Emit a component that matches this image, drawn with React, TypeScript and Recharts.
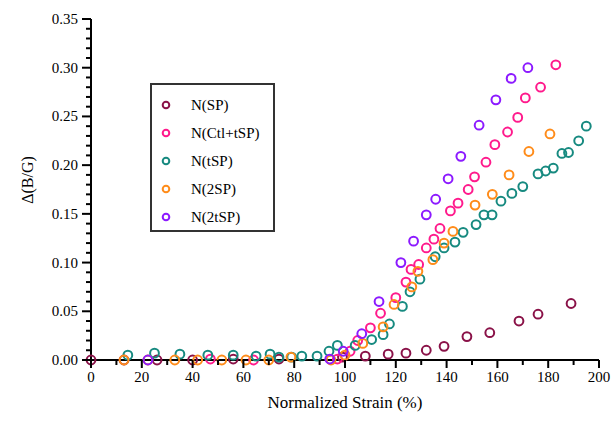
import React from 'react';
import { ScatterChart, Scatter, XAxis, YAxis, Legend } from 'recharts';

// values
const spX = [0, 13, 26, 40, 56, 74, 99, 108, 117, 124, 132, 139, 148, 157, 168.5, 176, 189];
const spY = [0, 0, 0, 0, 0.001, 0.001, 0.003, 0.004, 0.006, 0.007, 0.01, 0.014, 0.024, 0.028, 0.04, 0.047, 0.058];

const ctlX = [47, 64, 97, 102, 105, 110, 114, 120, 124, 126, 129, 132, 135, 137.4, 141.5, 144.5, 148.5, 151, 155.5, 159, 164, 168, 171, 177, 183];
const ctlY = [0.001, 0, 0.001, 0.009, 0.02, 0.033, 0.048, 0.064, 0.08, 0.093, 0.098, 0.115, 0.124, 0.135, 0.153, 0.161, 0.175, 0.188, 0.203, 0.221, 0.234, 0.249, 0.269, 0.28, 0.303];

const tspX = [14.5, 25, 35, 46, 56, 65, 70.5, 74, 79, 83, 89, 93.7, 97, 104, 110.5, 115, 117.5, 122.6, 125.6, 129.5, 135.5, 139, 143.3, 146.5, 151.6, 154.7, 157.9, 161.4, 165.7, 170, 176, 179, 182, 185.4, 188, 192, 195];
const tspY = [0.005, 0.007, 0.006, 0.005, 0.005, 0.004, 0.006, 0.003, 0.003, 0.004, 0.004, 0.009, 0.015, 0.015, 0.021, 0.026, 0.037, 0.055, 0.07, 0.083, 0.106, 0.115, 0.121, 0.131, 0.139, 0.149, 0.149, 0.163, 0.171, 0.178, 0.191, 0.194, 0.197, 0.212, 0.213, 0.225, 0.24];

const twoSpX = [13, 22.4, 33, 42, 51.5, 61, 70, 78.7, 94.5, 100, 107, 115, 119.3, 126.3, 128.7, 134.6, 139, 142.5, 151.2, 158, 164.6, 172.4, 180.7];
const twoSpY = [0, 0, 0, 0, 0, 0, 0, 0.003, 0, 0.005, 0.017, 0.034, 0.057, 0.075, 0.091, 0.103, 0.12, 0.132, 0.159, 0.17, 0.19, 0.214, 0.232];

const twoTspX = [22.4, 94, 99.3, 106.6, 113.4, 122, 127, 132, 135.7, 140.6, 145.6, 152.8, 159.4, 165.4, 172];
const twoTspY = [0, 0.001, 0.009, 0.027, 0.06, 0.1, 0.122, 0.149, 0.165, 0.186, 0.209, 0.241, 0.267, 0.289, 0.3];

const xTicks = [0, 10, 20, 30, 40, 50, 60, 70, 80, 90, 100, 110, 120, 130, 140, 150, 160, 170, 180, 190, 200];
const xMajorTicks = [0, 20, 40, 60, 80, 100, 120, 140, 160, 180, 200];

const yTicks = [0, 0.01, 0.02, 0.03, 0.04, 0.05, 0.06, 0.07, 0.08, 0.09, 0.1, 0.11, 0.12, 0.13, 0.14, 0.15, 0.16, 0.17, 0.18, 0.19, 0.2, 0.21, 0.22, 0.23, 0.24, 0.25, 0.26, 0.27, 0.28, 0.29, 0.3, 0.31, 0.32, 0.33, 0.34, 0.35];
const yMajorTicks = [0, 0.05, 0.1, 0.15, 0.2, 0.25, 0.3, 0.35];
const yTickLabels = ['0.00', '0.05', '0.10', '0.15', '0.20', '0.25', '0.30', '0.35'];

const toPoints = (xs: number[], ys: number[]) => xs.map((x, i) => ({ x, y: ys[i] }));

const series = [
  { name: 'N(SP)', color: '#8a1248', data: toPoints(spX, spY) },
  { name: 'N(Ctl+tSP)', color: '#ff1a8c', data: toPoints(ctlX, ctlY) },
  { name: 'N(tSP)', color: '#178a80', data: toPoints(tspX, tspY) },
  { name: 'N(2SP)', color: '#ff8c1a', data: toPoints(twoSpX, twoSpY) },
  { name: 'N(2tSP)', color: '#8c1aff', data: toPoints(twoTspX, twoTspY) },
];

const FONT = "'Liberation Serif', Tinos, 'Times New Roman', Times, 'DejaVu Serif', serif";

const XTick = ({ x, y, payload }: any) => {
  const idx = xMajorTicks.indexOf(payload.value);
  const major = idx >= 0;
  return (
    <g>
      <line x1={x} x2={x} y1={y} y2={y + (major ? 8 : 5)} stroke="#000" strokeWidth={2} />
      {major && (
        <text x={x} y={y + 22} textAnchor="middle" fontSize={15} style={{ fontFamily: FONT }} fill="#000">
          {xMajorTicks[idx]}
        </text>
      )}
    </g>
  );
};

const YTick = ({ x, y, payload }: any) => {
  const idx = yMajorTicks.findIndex(v => Math.abs(v - payload.value) < 1e-6);
  const major = idx >= 0;
  return (
    <g>
      <line x1={x} x2={x - (major ? 9 : 5)} y1={y} y2={y} stroke="#000" strokeWidth={2} />
      {major && (
        <text x={x - 13} y={y + 5} textAnchor="end" fontSize={15} style={{ fontFamily: FONT }} fill="#000">
          {yTickLabels[idx]}
        </text>
      )}
    </g>
  );
};

const renderLegend = () => (
  <div
    style={{
      width: 121,
      height: 139,
      border: '2px solid #333',
      paddingTop: 6,
      boxSizing: 'content-box',
      background: '#fff',
    }}
  >
    {series.map(s => (
      <div key={s.name} style={{ height: 28, display: 'flex', alignItems: 'center' }}>
        <svg width={39} height={28} style={{ display: 'block' }}>
          <circle cx={14} cy={14} r={3.3} fill="none" stroke={s.color} strokeWidth={2} />
        </svg>
        <span style={{ fontFamily: FONT, fontSize: 15, color: '#000', lineHeight: '28px' }}>{s.name}</span>
      </div>
    ))}
  </div>
);

const App: React.FC = () => {
  return (
    <div style={{ position: 'absolute', left: 0, top: 0, background: '#fff', fontFamily: FONT }}>
      <ScatterChart width={613} height={422} margin={{ top: 19, right: 14, bottom: 32, left: 31 }}>
        <XAxis
          type="number"
          dataKey="x"
          domain={[0, 200]}
          ticks={xTicks}
          interval={0}
          tickSize={0}
          tickMargin={0}
          tickLine={false}
          tick={<XTick />}
          axisLine={{ stroke: '#000', strokeWidth: 2 }}
          height={30}
          label={{
            content: ({ viewBox }: any) => (
              <text
                x={viewBox.x + viewBox.width / 2}
                y={viewBox.y + 48}
                textAnchor="middle"
                fontSize={17}
                style={{ fontFamily: FONT }}
                fill="#000"
              >
                Normalized Strain (%)
              </text>
            ),
          }}
        />
        <YAxis
          type="number"
          dataKey="y"
          domain={[0, 0.35]}
          ticks={yTicks}
          interval={0}
          tickSize={0}
          tickMargin={0}
          tickLine={false}
          tick={<YTick />}
          axisLine={{ stroke: '#000', strokeWidth: 2 }}
          width={60}
          label={{
            content: () => (
              <text
                x={33}
                y={180}
                transform="rotate(-90 33 180)"
                textAnchor="middle"
                fontSize={16}
                style={{ fontFamily: FONT }}
                fill="#000"
              >
                Δ(B/G)
              </text>
            ),
          }}
        />
        <Legend
          layout="vertical"
          align="center"
          verticalAlign="middle"
          content={renderLegend}
          wrapperStyle={{ left: 150, top: 83, width: 125 }}
        />
        {series.map(s => (
          <Scatter
            key={s.name}
            name={s.name}
            data={s.data}
            isAnimationActive={false}
            shape={(p: any) => (
              <circle cx={p.cx} cy={p.cy} r={4.4} fill="none" stroke={s.color} strokeWidth={2} />
            )}
          />
        ))}
      </ScatterChart>
    </div>
  );
};

export default App;
